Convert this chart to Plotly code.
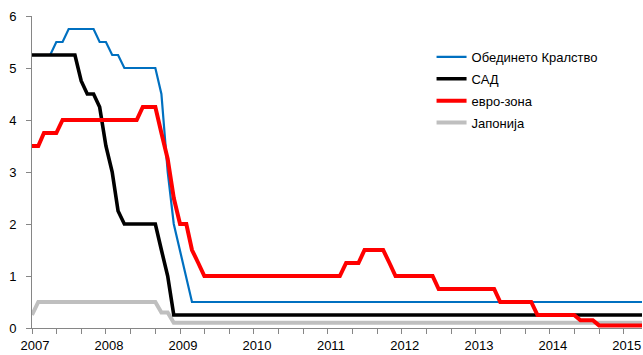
import pandas as pd
import plotly.graph_objects as go

# Monthly observations, January 2007 – April 2015 (first day of each month)
months = pd.date_range("2007-01-01", "2015-04-01", freq="MS")

# Policy interest rates, % (month by month)
uk_rate = [
    5.25, 5.25, 5.25, 5.25, 5.5, 5.5, 5.75, 5.75, 5.75, 5.75, 5.75, 5.5,   # 2007
    5.5, 5.25, 5.25, 5.0, 5.0, 5.0, 5.0, 5.0, 5.0, 4.5, 3.0, 2.0,          # 2008
    1.5, 1.0, 0.5, 0.5, 0.5, 0.5, 0.5, 0.5, 0.5, 0.5, 0.5, 0.5,            # 2009
    0.5, 0.5, 0.5, 0.5, 0.5, 0.5, 0.5, 0.5, 0.5, 0.5, 0.5, 0.5,            # 2010
    0.5, 0.5, 0.5, 0.5, 0.5, 0.5, 0.5, 0.5, 0.5, 0.5, 0.5, 0.5,            # 2011
    0.5, 0.5, 0.5, 0.5, 0.5, 0.5, 0.5, 0.5, 0.5, 0.5, 0.5, 0.5,            # 2012
    0.5, 0.5, 0.5, 0.5, 0.5, 0.5, 0.5, 0.5, 0.5, 0.5, 0.5, 0.5,            # 2013
    0.5, 0.5, 0.5, 0.5, 0.5, 0.5, 0.5, 0.5, 0.5, 0.5, 0.5, 0.5,            # 2014
    0.5, 0.5, 0.5, 0.5,                                                    # 2015
]
us_rate = [
    5.25, 5.25, 5.25, 5.25, 5.25, 5.25, 5.25, 5.25, 4.75, 4.5, 4.5, 4.25,  # 2007
    3.5, 3.0, 2.25, 2.0, 2.0, 2.0, 2.0, 2.0, 2.0, 1.5, 1.0, 0.25,          # 2008
    0.25, 0.25, 0.25, 0.25, 0.25, 0.25, 0.25, 0.25, 0.25, 0.25, 0.25, 0.25,  # 2009
    0.25, 0.25, 0.25, 0.25, 0.25, 0.25, 0.25, 0.25, 0.25, 0.25, 0.25, 0.25,  # 2010
    0.25, 0.25, 0.25, 0.25, 0.25, 0.25, 0.25, 0.25, 0.25, 0.25, 0.25, 0.25,  # 2011
    0.25, 0.25, 0.25, 0.25, 0.25, 0.25, 0.25, 0.25, 0.25, 0.25, 0.25, 0.25,  # 2012
    0.25, 0.25, 0.25, 0.25, 0.25, 0.25, 0.25, 0.25, 0.25, 0.25, 0.25, 0.25,  # 2013
    0.25, 0.25, 0.25, 0.25, 0.25, 0.25, 0.25, 0.25, 0.25, 0.25, 0.25, 0.25,  # 2014
    0.25, 0.25, 0.25, 0.25,                                                # 2015
]
euro_rate = [
    3.5, 3.5, 3.75, 3.75, 3.75, 4.0, 4.0, 4.0, 4.0, 4.0, 4.0, 4.0,         # 2007
    4.0, 4.0, 4.0, 4.0, 4.0, 4.0, 4.25, 4.25, 4.25, 3.75, 3.25, 2.5,       # 2008
    2.0, 2.0, 1.5, 1.25, 1.0, 1.0, 1.0, 1.0, 1.0, 1.0, 1.0, 1.0,           # 2009
    1.0, 1.0, 1.0, 1.0, 1.0, 1.0, 1.0, 1.0, 1.0, 1.0, 1.0, 1.0,            # 2010
    1.0, 1.0, 1.0, 1.25, 1.25, 1.25, 1.5, 1.5, 1.5, 1.5, 1.25, 1.0,        # 2011
    1.0, 1.0, 1.0, 1.0, 1.0, 1.0, 0.75, 0.75, 0.75, 0.75, 0.75, 0.75,      # 2012
    0.75, 0.75, 0.75, 0.75, 0.5, 0.5, 0.5, 0.5, 0.5, 0.5, 0.25, 0.25,      # 2013
    0.25, 0.25, 0.25, 0.25, 0.25, 0.15, 0.15, 0.15, 0.05, 0.05, 0.05, 0.05,  # 2014
    0.05, 0.05, 0.05, 0.05,                                                # 2015
]
japan_rate = [
    0.25, 0.5, 0.5, 0.5, 0.5, 0.5, 0.5, 0.5, 0.5, 0.5, 0.5, 0.5,           # 2007
    0.5, 0.5, 0.5, 0.5, 0.5, 0.5, 0.5, 0.5, 0.5, 0.3, 0.3, 0.1,            # 2008
    0.1, 0.1, 0.1, 0.1, 0.1, 0.1, 0.1, 0.1, 0.1, 0.1, 0.1, 0.1,            # 2009
    0.1, 0.1, 0.1, 0.1, 0.1, 0.1, 0.1, 0.1, 0.1, 0.1, 0.1, 0.1,            # 2010
    0.1, 0.1, 0.1, 0.1, 0.1, 0.1, 0.1, 0.1, 0.1, 0.1, 0.1, 0.1,            # 2011
    0.1, 0.1, 0.1, 0.1, 0.1, 0.1, 0.1, 0.1, 0.1, 0.1, 0.1, 0.1,            # 2012
    0.1, 0.1, 0.1, 0.1, 0.1, 0.1, 0.1, 0.1, 0.1, 0.1, 0.1, 0.1,            # 2013
    0.1, 0.1, 0.1, 0.1, 0.1, 0.1, 0.1, 0.1, 0.1, 0.1, 0.1, 0.1,            # 2014
    0.1, 0.1, 0.1, 0.1,                                                    # 2015
]

series_names = ["Обединето Кралство", "САД", "евро-зона", "Јапонија"]
year_ticks = [f"{y}-01-01" for y in range(2007, 2016)]
year_labels = [str(y) for y in range(2007, 2016)]

FONT = "Liberation Sans"
AXIS_GREY = "#868686"

# (values, name, colour, width, legend position); drawn bottom-to-top in this order
traces = [
    (japan_rate, series_names[3], "#BFBFBF", 4, 4),
    (uk_rate, series_names[0], "#0070C0", 2.2, 1),
    (us_rate, series_names[1], "#000000", 3.6, 2),
    (euro_rate, series_names[2], "#FF0000", 4, 3),
]

fig = go.Figure()
for values, name, colour, width, rank in traces:
    fig.add_trace(go.Scatter(
        x=months, y=values, name=name, mode="lines",
        line=dict(color=colour, width=width),
        legendrank=rank, legendgroup=name,
    ))

fig.update_layout(
    width=643, height=355,
    margin=dict(l=32, r=1, t=16, b=27),
    paper_bgcolor="white", plot_bgcolor="white",
    font=dict(family=FONT, size=13, color="#000000"),
    showlegend=True,
    legend=dict(
        x=0.655, y=0.917, xanchor="left", yanchor="top",
        bgcolor="rgba(0,0,0,0)", borderwidth=0,
        font=dict(family=FONT, size=13, color="#000000"),
        tracegroupgap=2,
    ),
    xaxis=dict(
        type="date",
        range=["2007-01-01", "2015-04-01"],
        tickvals=year_ticks, ticktext=year_labels,
        ticks="outside", ticklen=5, tickcolor=AXIS_GREY,
        minor=dict(dtick="M4", tick0="2007-01-01", ticks="outside",
                   ticklen=5, tickcolor=AXIS_GREY, showgrid=False),
        showline=True, linecolor=AXIS_GREY, linewidth=1,
        showgrid=False, zeroline=False, automargin=False,
        tickfont=dict(family=FONT, size=13, color="#000000"),
        ticklabelshift=3,
    ),
    yaxis=dict(
        range=[0, 6], dtick=1, tick0=0,
        ticks="outside", ticklen=5, tickcolor=AXIS_GREY,
        showline=True, linecolor=AXIS_GREY, linewidth=1,
        showgrid=False, zeroline=False, automargin=False,
        tickfont=dict(family=FONT, size=13, color="#000000"),
        ticklabelstandoff=7,
    ),
)

fig.write_html("out.html")
